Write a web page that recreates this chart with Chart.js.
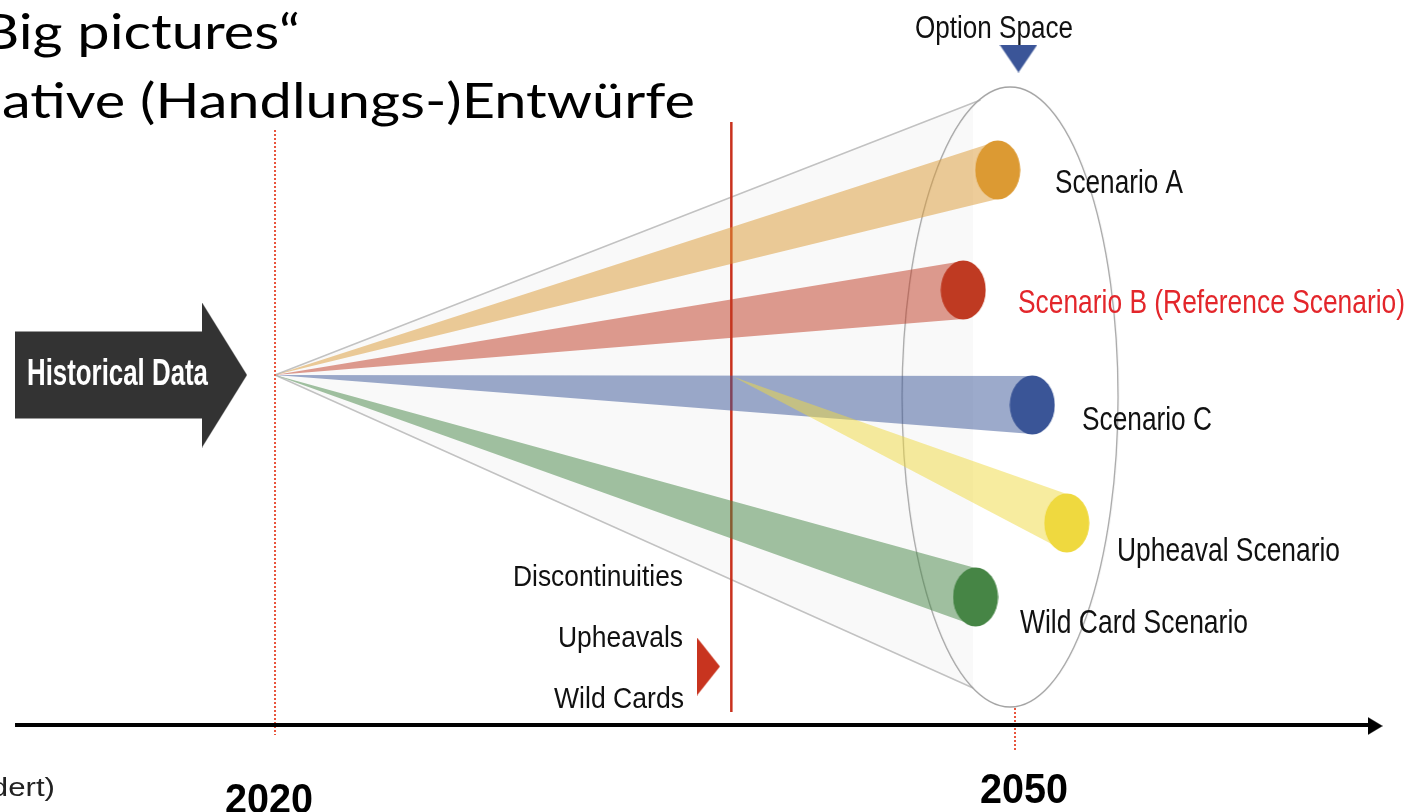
<!DOCTYPE html>
<html>
<head>
<meta charset="utf-8">
<script src="https://cdn.jsdelivr.net/npm/chart.js@4.4.1/dist/chart.umd.min.js"></script>
<style>
  html, body { margin: 0; padding: 0; background: #fff; overflow: hidden; }
  canvas { display: block; }
</style>
</head>
<body>
<canvas id="scenario_chart" width="1420" height="812"></canvas>
<script>
var scenario_chart = document.getElementById('scenario_chart');

// data (x = year, y = deviation from today's path)
const scenarios = ['Scenario A', 'Scenario B (Reference Scenario)', 'Scenario C', 'Upheaval Scenario', 'Wild Card Scenario'];
const startYears = [2020, 2020, 2020, 2038.6, 2020];
const startValues = [0, 0, 0, -0.2, 0];
const endYears = [2049.3, 2047.9, 2050.7, 2052.1, 2048.4];
const endValues = [20.5, 8.5, -3.0, -14.8, -22.2];
const spreads = [2.9, 2.9, 2.9, 2.9, 2.9];
const colors = ['#dc9a33', '#bf3a22', '#3a5597', '#efd93f', '#468545'];
const tickYears = [2020, 2050];
const optionSpaceUpper = [{x: 2020, y: 0}, {x: 2048.6, y: 27.5}];
const optionSpaceLower = [{x: 2020, y: 0}, {x: 2048.3, y: -31.3}];
const optionSpaceCenter = [{x: 2049.8, y: -2.2}];
const discontinuityLine = [{x: 2038.5, y: 25.3}, {x: 2038.5, y: -33.7}];
const todayLine = [{x: 2020, y: 24.5}, {x: 2020, y: -36}];
const horizonLine = [{x: 2050, y: -33.3}, {x: 2050, y: -37.5}];
const timeAxis = [{x: 2009.46, y: -35}, {x: 2064.4, y: -35}];

// shapes used as point styles
function makeShape(w, h, draw) {
  const c = document.createElement('canvas');
  c.width = w;
  c.height = h;
  draw(c.getContext('2d'), w, h);
  return c;
}
function alpha(hex, a) {
  const n = parseInt(hex.slice(1), 16);
  return 'rgba(' + (n >> 16) + ',' + ((n >> 8) & 255) + ',' + (n & 255) + ',' + a + ')';
}

const endCaps = colors.map(col => makeShape(46, 60, (c, w, h) => {
  c.fillStyle = col;
  c.beginPath();
  c.ellipse(w / 2, h / 2, 22.5, 29.5, 0, 0, Math.PI * 2);
  c.fill();
}));

const optionEllipse = makeShape(222, 626, (c, w, h) => {
  c.strokeStyle = '#a3a3a3';
  c.lineWidth = 1.3;
  c.beginPath();
  c.ellipse(w / 2, h / 2, 108, 310, 0, 0, Math.PI * 2);
  c.stroke();
});

const historyArrow = makeShape(232, 145, (c) => {
  c.fillStyle = '#333333';
  c.beginPath();
  c.moveTo(0, 29); c.lineTo(187, 29); c.lineTo(187, 0); c.lineTo(232, 72.5);
  c.lineTo(187, 145); c.lineTo(187, 116); c.lineTo(0, 116);
  c.closePath();
  c.fill();
});

const downTriangle = makeShape(38, 28, (c) => {
  c.fillStyle = '#3b5598';
  c.beginPath();
  c.moveTo(0, 0); c.lineTo(38, 0); c.lineTo(19, 28);
  c.closePath();
  c.fill();
});

const redTriangle = makeShape(23, 58, (c) => {
  c.fillStyle = '#c8341f';
  c.beginPath();
  c.moveTo(0, 0); c.lineTo(23, 29); c.lineTo(0, 58);
  c.closePath();
  c.fill();
});

const arrowHead = makeShape(15, 18, (c) => {
  c.fillStyle = '#000';
  c.beginPath();
  c.moveTo(0, 0); c.lineTo(15, 9); c.lineTo(0, 18);
  c.closePath();
  c.fill();
});

const markers = [
  {x: 2014.16, y: 0, style: historyArrow},
  {x: 2050.14, y: 31.65, style: downTriangle},
  {x: 2037.57, y: -29.15, style: redTriangle},
  {x: 2064.6, y: -35.1, style: arrowHead}
];

// datasets
const datasets = [];

datasets.push({
  data: optionSpaceUpper, borderColor: '#c2c2c2', borderWidth: 1.5,
  backgroundColor: 'rgba(0,0,0,0.022)', fill: '+1', pointRadius: 0, order: 100
});
datasets.push({
  data: optionSpaceLower, borderColor: '#c2c2c2', borderWidth: 1.5,
  fill: false, pointRadius: 0, order: 99
});
datasets.push({
  data: optionSpaceCenter, showLine: false, pointStyle: optionEllipse,
  pointRadius: 10, order: 95
});
datasets.push({
  data: todayLine, borderColor: '#e8553d', borderWidth: 2, borderDash: [2, 2],
  pointRadius: 0, fill: false, order: 94
});
datasets.push({
  data: horizonLine, borderColor: '#e8553d', borderWidth: 2, borderDash: [2, 2],
  pointRadius: 0, fill: false, order: 94
});
datasets.push({
  data: discontinuityLine, borderColor: '#c9321e', borderWidth: 2.5,
  pointRadius: 0, fill: false, order: 90
});

scenarios.forEach((name, i) => {
  datasets.push({
    label: name,
    data: [{x: startYears[i], y: startValues[i]}, {x: endYears[i], y: endValues[i] + spreads[i]}],
    borderWidth: 0, pointRadius: 0,
    backgroundColor: alpha(colors[i], 0.5), fill: '+1', order: 80 - i
  });
  datasets.push({
    data: [{x: startYears[i], y: startValues[i]}, {x: endYears[i], y: endValues[i] - spreads[i]}],
    borderWidth: 0, pointRadius: 0, fill: false, order: 80 - i
  });
});

datasets.push({
  data: scenarios.map((s, i) => ({x: endYears[i], y: endValues[i]})),
  showLine: false, pointStyle: endCaps, pointRadius: 20, order: 50
});
datasets.push({
  data: timeAxis, borderColor: '#000', borderWidth: 4, pointRadius: 0, fill: false, order: 40
});
datasets.push({
  data: markers.map(m => ({x: m.x, y: m.y})),
  showLine: false, pointStyle: markers.map(m => m.style), pointRadius: 10, order: 30
});

// text
function fitText(ctx, text, x, y, width, align) {
  const w = ctx.measureText(text).width;
  ctx.save();
  ctx.translate(x, y);
  ctx.scale(width / w, 1);
  ctx.textAlign = align;
  ctx.fillText(text, 0, 0);
  ctx.restore();
}

const scenarioLabels = [
  {x: 1055, y: 193, w: 128, color: '#111'},
  {x: 1018, y: 313, w: 387, color: '#e3262b'},
  {x: 1082, y: 430, w: 130, color: '#111'},
  {x: 1117, y: 561, w: 223, color: '#111'},
  {x: 1020, y: 633, w: 228, color: '#111'}
];

const textPlugin = {
  id: 'texts',
  afterDatasetsDraw(chart) {
    const ctx = chart.ctx;
    const xs = chart.scales.x;
    ctx.save();
    ctx.textBaseline = 'alphabetic';

    // headline (cut off on the left like the slide)
    ctx.fillStyle = '#000';
    ctx.font = '49px Lato';
    const sx = 693 / ctx.measureText('ative (Handlungs-)Entwürfe').width;
    [['„Big pictures“', 300, 49], ['Alternative (Handlungs-)Entwürfe', 695, 118]].forEach(([t, x, y]) => {
      ctx.save();
      ctx.translate(x, y);
      ctx.scale(sx, 1);
      ctx.textAlign = 'right';
      ctx.fillText(t, 0, 0);
      ctx.restore();
    });

    // source note, cut off
    ctx.font = '26px "Liberation Sans"';
    ctx.fillStyle = '#222';
    ctx.save();
    ctx.translate(55, 796);
    ctx.scale(1.2, 1);
    ctx.textAlign = 'right';
    ctx.fillText('(verändert)', 0, 0);
    ctx.restore();

    // arrow label
    ctx.font = 'bold 37px "Liberation Sans"';
    ctx.fillStyle = '#fff';
    fitText(ctx, 'Historical Data', 27, 385, 181, 'left');

    // scenario labels
    ctx.font = '33px "Liberation Sans"';
    scenarios.forEach((name, i) => {
      const l = scenarioLabels[i];
      ctx.fillStyle = l.color;
      fitText(ctx, name, l.x, l.y, l.w, 'left');
    });

    ctx.fillStyle = '#111';
    ctx.font = '31px "Liberation Sans"';
    fitText(ctx, 'Option Space', 915, 38, 158, 'left');

    ctx.font = '29px "Liberation Sans"';
    fitText(ctx, 'Discontinuities', 683, 586, 170, 'right');
    fitText(ctx, 'Upheavals', 683, 647, 125, 'right');
    fitText(ctx, 'Wild Cards', 684, 708, 130, 'right');

    // year ticks
    ctx.fillStyle = '#000';
    ctx.font = 'bold 43px "Liberation Sans"';
    const tickShift = [-6, 9];
    const tickBase = [813, 803];
    tickYears.forEach((yr, i) => {
      fitText(ctx, String(yr), xs.getPixelForValue(yr) + tickShift[i], tickBase[i], 88, 'center');
    });
    ctx.restore();
  }
};

var scenarioChart = new Chart(scenario_chart, {
  type: 'line',
  data: { datasets: datasets },
  options: {
    responsive: false,
    animation: false,
    devicePixelRatio: 1,
    layout: { padding: 0, autoPadding: false },
    scales: {
      x: { type: 'linear', min: 2008.851, max: 2066.419, display: false },
      y: { type: 'linear', min: -43.7, max: 37.5, display: false }
    },
    plugins: {
      legend: { display: false },
      tooltip: { enabled: false }
    }
  },
  plugins: [textPlugin]
});
</script>
</body>
</html>
